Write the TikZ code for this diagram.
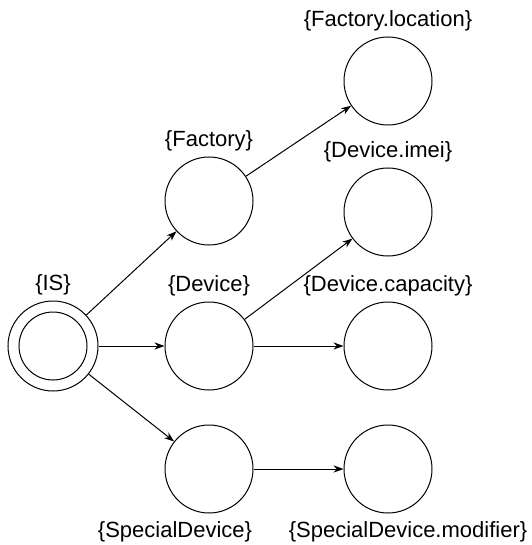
\documentclass[tikz,border=0pt]{standalone}
\usepackage{fontspec}
\setmainfont{Liberation Sans}
\usetikzlibrary{arrows.meta}
\begin{document}
\begin{tikzpicture}[x=0.5pt, y=-0.5pt, line width=0.5pt, >={Stealth[length=5pt,width=3.6pt]},
		state/.style = {draw, circle, minimum size=44pt, inner sep=0pt},
		lab/.style = {font=\fontsize{11}{13}\selectfont, inner sep=0pt, label distance=2.3pt},
		labb/.style = {font=\fontsize{11}{13}\selectfont, inner sep=0pt, label distance=4pt}]
	\useasboundingbox (0,0) rectangle (531,545);
	
	\node[state, minimum size=45pt] (IS) at (53,346) [label={[lab]above:\{IS\}}] {};
	\draw (IS.center) circle[radius=17pt];
	
	\node[state] (F) at (209,201) [label={[lab]above:\{Factory\}}] {};
	\node[state] (D) at (209,346) [label={[lab]above:\{Device\}}] {};
	\node[state] (S) at (209,469) [label={[labb, xshift=-17pt]below:\{SpecialDevice\}}] {};
	
	\node[state] (Floc) at (388,81) [label={[lab]above:\{Factory.location\}}] {};
	\node[state] (Dimei) at (388,212) [label={[lab]above:\{Device.imei\}}] {};
	\node[state] (Dcap) at (388,346) [label={[lab]above:\{Device.capacity\}}] {};
	\node[state] (Smod) at (388,469) [label={[labb, xshift=10pt]below:\{SpecialDevice.modifier\}}] {};
	
	\draw[->] (IS) -- (F);
	\draw[->] (IS) -- (D);
	\draw[->] (IS) -- (S);
	\draw[->] (F) -- (Floc);
	\draw[->] (D) -- (Dimei);
	\draw[->] (D) -- (Dcap);
	\draw[->] (S) -- (Smod);
	
\end{tikzpicture}
\end{document}
